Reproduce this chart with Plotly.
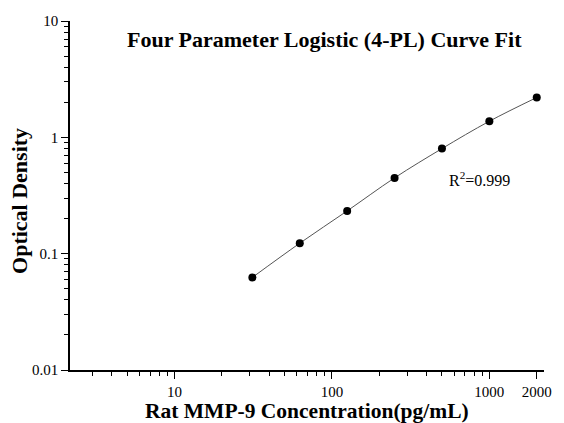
import plotly.graph_objects as go
import numpy as np

# Data
concentration = [31.25, 62.5, 125, 250, 500, 1000, 2000]
optical_density = [0.0625, 0.123, 0.233, 0.448, 0.80, 1.375, 2.20]

x_tick_vals = [10, 100, 1000, 2000]
x_tick_text = ["10", "100", "1000", "2000"]
y_tick_vals = [0.01, 0.1, 1, 10]
y_tick_text = ["0.01", "0.1", "1", "10"]

x_minor = [m * 10 ** e for e in range(0, 4) for m in range(2, 10) if 2 <= m * 10 ** e <= 2000]
y_minor = [m * 10.0 ** e for e in range(-2, 1) for m in range(2, 10)]

FONT = "Liberation Serif, Times New Roman, serif"

fig = go.Figure()
fig.add_trace(go.Scatter(
    x=concentration, y=optical_density,
    mode="lines", line=dict(color="#555555", width=1, shape="spline"),
    hoverinfo="skip", showlegend=False,
))
fig.add_trace(go.Scatter(
    x=concentration, y=optical_density,
    mode="markers", marker=dict(color="black", size=8),
    showlegend=False,
))

W, H = 564, 423
L, R, T, B = 70, 17, 21, 53

fig.update_layout(
    width=W, height=H,
    margin=dict(l=L, r=R, t=T, b=B, pad=0),
    paper_bgcolor="white", plot_bgcolor="white",
    font=dict(family=FONT, color="black", size=15),
    xaxis=dict(
        type="log", range=[np.log10(2.17), np.log10(2224)],
        showgrid=False, zeroline=False,
        showline=True, linecolor="black", linewidth=1.5,
        ticks="outside", ticklen=7, tickwidth=1.2, tickcolor="black",
        tickvals=x_tick_vals, ticktext=x_tick_text,
        tickfont=dict(family=FONT, size=15, color="black"),
        minor=dict(tickvals=x_minor, ticks="outside", ticklen=4, tickwidth=1.2, tickcolor="black", showgrid=False),
    ),
    yaxis=dict(
        type="log", range=[-2, 1],
        showgrid=False, zeroline=False,
        showline=True, linecolor="black", linewidth=1.5,
        ticks="outside", ticklen=7, tickwidth=1.2, tickcolor="black",
        tickvals=y_tick_vals, ticktext=y_tick_text,
        tickfont=dict(family=FONT, size=15, color="black"),
        minor=dict(tickvals=y_minor, ticks="outside", ticklen=4, tickwidth=1.2, tickcolor="black", showgrid=False),
    ),
    annotations=[
        dict(text="<b>Four Parameter Logistic (4-PL) Curve Fit</b>", xref="paper", yref="paper",
             x=0.537, y=0.948, xanchor="center", yanchor="middle", showarrow=False,
             font=dict(family=FONT, size=22, color="black")),
        dict(text="<b>Rat MMP-9 Concentration(pg/mL)</b>", xref="paper", yref="paper",
             x=0.5, y=-0.117, xanchor="center", yanchor="middle", showarrow=False,
             font=dict(family=FONT, size=21.5, color="black")),
        dict(text="<b>Optical Density</b>", xref="paper", yref="paper",
             x=-0.105, y=0.485, xanchor="center", yanchor="middle", showarrow=False, textangle=-90,
             font=dict(family=FONT, size=22, color="black")),
        dict(text="R<sup>2</sup>=0.999", xref="paper", yref="paper",
             x=0.864, y=0.547, xanchor="center", yanchor="middle", showarrow=False,
             font=dict(family=FONT, size=16, color="black")),
    ],
)

fig.write_html("out.html", config={"displayModeBar": False},
               post_script="document.body.style.margin='0';document.body.style.overflow='hidden';")
